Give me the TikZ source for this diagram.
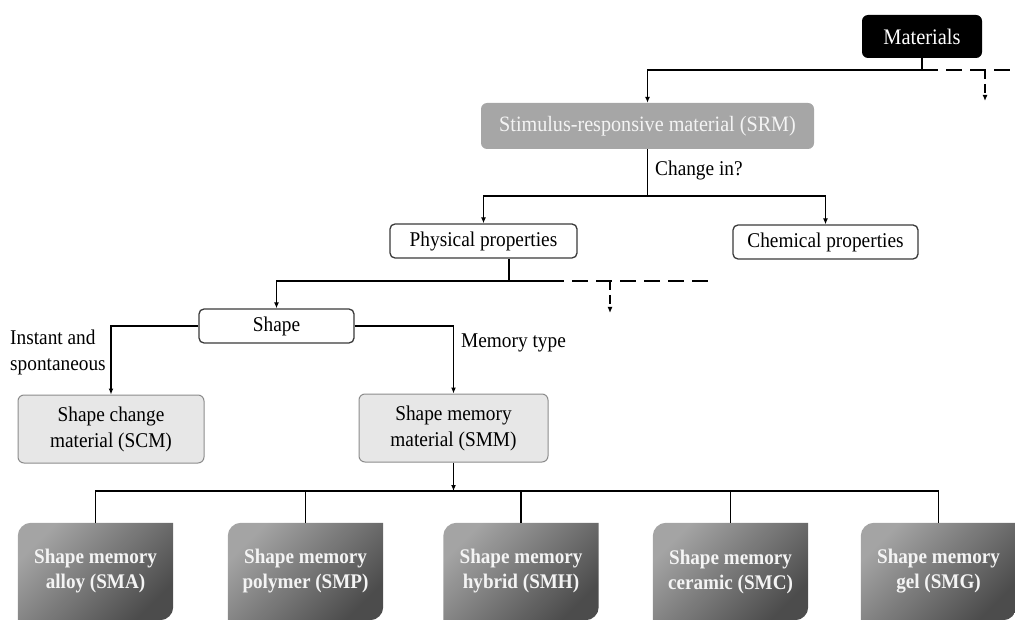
\documentclass[tikz,border=0pt]{standalone}
\usepackage{fontspec}
\setmainfont{Liberation Serif}[FakeStretch=0.92]
\usetikzlibrary{arrows.meta,calc,backgrounds}
\definecolor{srmgray}{HTML}{A6A6A6}
\definecolor{lightfill}{HTML}{E7E7E7}
\definecolor{lightborder}{HTML}{8C8C8C}
\definecolor{boxborder}{HTML}{3A3A3A}
\definecolor{memlight}{HTML}{A4A4A4}
\definecolor{memdark}{HTML}{4C4C4C}
\definecolor{offwhite}{HTML}{F4F4F4}
\newcommand\memshape[1]{%
  \shade[memshade] (#1.south west) -- ($(#1.north west)+(0,13)$)
    .. controls ($(#1.north west)+(0,6)$) and ($(#1.north west)+(6,0)$) .. ($(#1.north west)+(13,0)$)
    -- (#1.north east) -- ($(#1.south east)+(0,-13)$)
    .. controls ($(#1.south east)+(0,-6)$) and ($(#1.south east)+(-6,0)$) .. ($(#1.south east)+(-13,0)$)
    -- cycle;}
\begin{document}
\begin{tikzpicture}[x=1pt,y=-1pt,
  font=\fontsize{21}{26}\selectfont,
  line/.style={line width=1.4pt, draw=black},
  arr/.style={line, -{Latex[length=6pt,width=5pt]}},
  dsh/.style={line, dash pattern=on 16pt off 8pt},
  darr/.style={line, dash pattern=on 9pt off 5pt, -{Latex[length=6pt,width=5pt]}},
  whitebox/.style={draw=boxborder, line width=1.3pt, fill=white, rounded corners=5pt, inner sep=0pt, minimum height=34pt},
  greybox/.style={draw=lightborder, line width=1pt, fill=lightfill, rounded corners=6pt, inner sep=0pt, minimum height=68pt, align=center},
  membox/.style={inner sep=0pt, minimum width=155pt, minimum height=97pt, align=center, text=offwhite, font=\fontsize{20.8}{25}\selectfont\bfseries},
  memshade/.style={top color=memlight, bottom color=memdark, shading angle=45},
  lbl/.style={inner sep=0pt, align=left}]
\useasboundingbox (0,0) rectangle (1015,620);

% nodes
\node[fill=black, text=white, rounded corners=6pt, inner sep=0pt, minimum width=120pt, minimum height=43pt,
      font=\fontsize{22.2}{26}\selectfont] (mat) at (922,36.5) {Materials};
\node[fill=srmgray, text=offwhite, rounded corners=6pt, inner sep=0pt, minimum width=333pt, minimum height=46pt,
      font=\fontsize{21.9}{26}\selectfont] (srm) at (647.5,126) {Stimulus-responsive material (SRM)};
\node[whitebox, minimum width=187pt] (phys) at (483.5,241) {Physical properties};
\node[whitebox, minimum width=185pt] (chem) at (825.5,242) {Chemical properties};
\node[whitebox, minimum width=155pt] (shape) at (276.5,326) {Shape};
\node[greybox, minimum width=186pt] (scm) at (111,429) {Shape change\\material (SCM)};
\node[greybox, minimum width=189pt] (smm) at (453.5,428) {Shape memory\\material (SMM)};

\node[membox] (sma) at (95.5,571.5) {Shape memory\\alloy (SMA)};
\node[membox] (smp) at (305.5,571.5) {Shape memory\\polymer (SMP)};
\node[membox] (smh) at (521,571.5) {Shape memory\\hybrid (SMH)};
\node[membox] (smc) at (730.5,571.5) {Shape memory\\ceramic (SMC)};
\node[membox] (smg) at (938.5,571.5) {Shape memory\\gel (SMG)};

\begin{pgfonlayer}{background}
  \memshape{sma}\memshape{smp}\memshape{smh}\memshape{smc}\memshape{smg}
\end{pgfonlayer}

% labels
\node[lbl, anchor=west] (lchange) at (655,170) {Change in?};
\node[lbl, anchor=west] (linst) at (10,352) {Instant and\\spontaneous};
\node[lbl, anchor=west] (lmem) at (461,343) {Memory type};

% connectors: Materials
\coordinate (mbus) at (922,70);
\coordinate (mend) at (1015,70);
\coordinate (mdrop) at (985,70);
\coordinate (mdropend) at (985,101);
\draw[arr] (mat.south) -- (mbus) -| (srm.north);
\draw[dsh] (mbus) -- (mend);
\draw[darr] (mdrop) -- (mdropend);

% SRM
\coordinate (sbus) at (647.5,196);
\draw[line] (srm.south) -- (sbus);
\draw[arr] (sbus) -| (phys.north);
\draw[arr] (sbus) -| (chem.north);

% Physical
\coordinate (pbus) at (509,281);
\coordinate (pdash) at (548,281);
\coordinate (pend) at (713,281);
\coordinate (pdrop) at (610,281);
\coordinate (pdropend) at (610,313);
\draw[line] (phys.south -| pbus) -- (pbus) -- (pdash);
\draw[arr] (pbus) -| (shape.north);
\draw[dsh] (pdash) -- (pend);
\draw[darr] (pdrop) -- (pdropend);

% Shape
\draw[arr] (shape.west) -| (scm.north);
\draw[arr] (shape.east) -| (smm.north);

% SMM to bottom
\coordinate (bbus) at (453.5,491);
\draw[arr] (smm.south) -- (bbus);
\draw[line] (sma.north) -- (sma.north |- bbus) -- (smg.north |- bbus) -- (smg.north);
\draw[line] (smp.north) -- (smp.north |- bbus);
\draw[line] (smh.north) -- (smh.north |- bbus);
\draw[line] (smc.north) -- (smc.north |- bbus);
\end{tikzpicture}
\end{document}
